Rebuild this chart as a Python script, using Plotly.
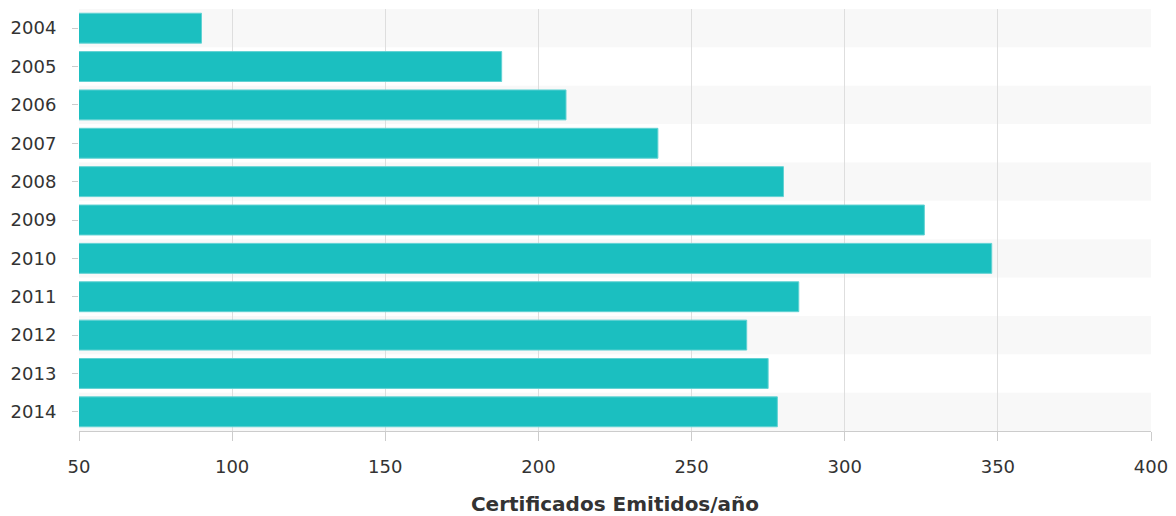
import plotly.graph_objects as go

years = ["2004", "2005", "2006", "2007", "2008", "2009", "2010", "2011", "2012", "2013", "2014"]
certificados = [90, 188, 209, 239, 280, 326, 348, 285, 268, 275, 278]
x_ticks = [50, 100, 150, 200, 250, 300, 350, 400]
x_title = "Certificados Emitidos/año"

FONT = "DejaVu Sans, Verdana, sans-serif"

fig = go.Figure()
fig.add_trace(go.Bar(
    y=years, x=certificados, orientation="h",
    marker=dict(color="#1bbfc0", line=dict(color="#62d2d3", width=1)),
    width=0.78,
    hoverinfo="x+y",
))

shapes = []
for i in range(0, len(years), 2):
    shapes.append(dict(type="rect", xref="paper", yref="y",
                       x0=0, x1=1, y0=i - 0.5, y1=i + 0.5,
                       fillcolor="#f8f8f8", line=dict(width=0), layer="below"))

fig.update_layout(
    width=1168, height=508,
    margin=dict(l=71, r=25, t=1, b=85),
    paper_bgcolor="white", plot_bgcolor="white",
    font=dict(family=FONT, size=18, color="#333333"),
    shapes=shapes,
    showlegend=False,
    bargap=0.22,
)
fig.update_xaxes(
    range=[50, 400], tickvals=x_ticks, ticktext=[str(v) for v in x_ticks],
    showgrid=True, gridcolor="#dedede", gridwidth=1,
    showline=True, linecolor="#cccccc", linewidth=1,
    ticks="outside", ticklen=9, tickcolor="#cccccc",
    ticklabelstandoff=10,
    tickfont=dict(size=18, color="#333333"),
    title=dict(text=x_title, font=dict(size=20, color="#333333", family=FONT, weight="bold"), standoff=22),
    zeroline=False, fixedrange=True,
)
fig.update_yaxes(
    categoryorder="array", categoryarray=years,
    range=[len(years) - 0.5, -0.5],
    ticks="outside", ticklen=6, tickcolor="#cccccc",
    ticklabelstandoff=12,
    showgrid=False, showline=False, zeroline=False,
    tickfont=dict(size=18, color="#333333"),
    fixedrange=True,
)

fig.write_html("out.html")
